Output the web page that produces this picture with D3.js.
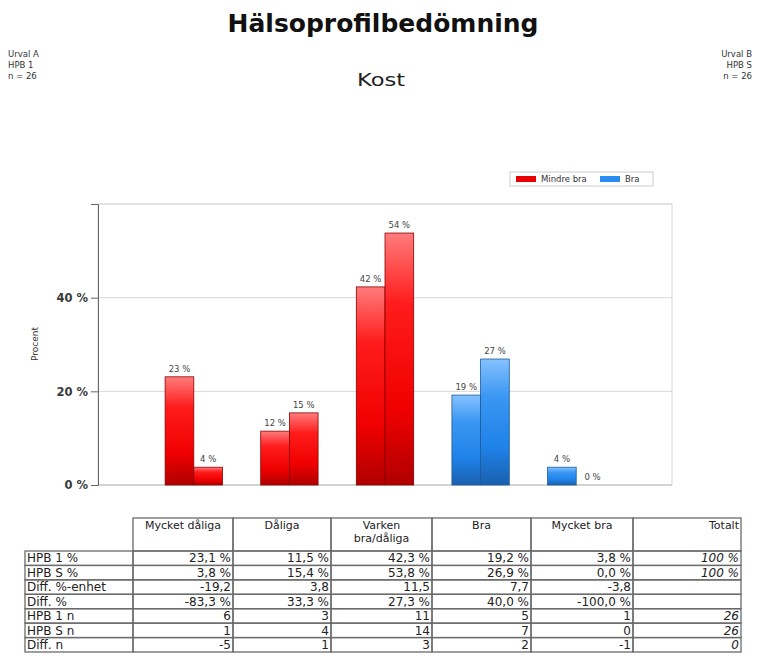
<!DOCTYPE html>
<html>
<head>
<meta charset="utf-8">
<script src="https://cdn.jsdelivr.net/npm/d3@7"></script>
<style>
body { margin: 0; background: #fff; }
text { font-family: "DejaVu Sans", Verdana, sans-serif; }
</style>
</head>
<body>
<div id="chart"></div>
<script>
// chart data
const categories = ["Mycket dåliga", "Dåliga", "Varken bra/dåliga", "Bra", "Mycket bra"];
const seriesNames = ["HPB 1", "HPB S"];
const hpb1Pct = [23.1, 11.5, 42.3, 19.2, 3.8];
const hpbSPct = [3.8, 15.4, 53.8, 26.9, 0.0];
const categoryGroup = ["Mindre bra", "Mindre bra", "Mindre bra", "Bra", "Bra"];
const legendItems = ["Mindre bra", "Bra"];
const yTicks = [0, 20, 40, 60];

// table data
const headerLabels = [["Mycket dåliga"], ["Dåliga"], ["Varken", "bra/dåliga"], ["Bra"], ["Mycket bra"], ["Totalt"]];
const rowLabels = ["HPB 1 %", "HPB S %", "Diff. %-enhet", "Diff. %", "HPB 1 n", "HPB S n", "Diff. n"];
const diffUnit = [-19.2, 3.8, 11.5, 7.7, -3.8];
const diffPct = [-83.3, 33.3, 27.3, 40.0, -100.0];
const hpb1N = [6, 3, 11, 5, 1];
const hpbSN = [1, 4, 14, 7, 0];
const diffN = [-5, 1, 3, 2, -1];
const totals = ["100 %", "100 %", "", "", "26", "26", "0"];

const sv = d3.formatLocale({decimal: ",", thousands: " ", grouping: [3], currency: ["", " kr"], minus: "-"});
const f1 = sv.format(".1f");

const svg = d3.select("#chart").append("svg")
    .attr("width", 760)
    .attr("height", 666);

// gradients for the bars
const defs = svg.append("defs");
function grad(id, stops) {
    const g = defs.append("linearGradient").attr("id", id)
        .attr("x1", 0).attr("y1", 0).attr("x2", 0).attr("y2", 1);
    stops.forEach(s => g.append("stop").attr("offset", s[0]).attr("stop-color", s[1]));
}
grad("gRed", [["0%", "#ff7c7c"], ["28%", "#ff1c1c"], ["70%", "#f00000"], ["100%", "#b00000"]]);
grad("gBlue", [["0%", "#86c2ff"], ["30%", "#3a96f2"], ["70%", "#1f82e8"], ["100%", "#1a5fae"]]);
const fillOf = {"Mindre bra": "url(#gRed)", "Bra": "url(#gBlue)"};
const strokeOf = {"Mindre bra": "#8a0000", "Bra": "#1d5a9a"};
const swatchOf = {"Mindre bra": "#e80000", "Bra": "#2a8ef0"};

// titles
svg.append("text")
    .attr("x", 383).attr("y", 32)
    .attr("text-anchor", "middle")
    .style("font-size", "25px").style("font-weight", "bold").attr("fill", "#111")
    .text("Hälsoprofilbedömning");

svg.append("text")
    .attr("x", 381).attr("y", 86)
    .attr("text-anchor", "middle")
    .attr("textLength", 48).attr("lengthAdjust", "spacingAndGlyphs")
    .style("font-size", "18px").attr("fill", "#222")
    .text("Kost");

const leftInfo = ["Urval A", "HPB 1", "n = 26"];
const rightInfo = ["Urval B", "HPB S", "n = 26"];
svg.append("g").selectAll("text").data(leftInfo).enter().append("text")
    .attr("x", 8).attr("y", (d, i) => 57 + i * 11)
    .style("font-size", "8.5px").attr("fill", "#333")
    .text(d => d);
svg.append("g").selectAll("text").data(rightInfo).enter().append("text")
    .attr("x", 752).attr("y", (d, i) => 57 + i * 11)
    .attr("text-anchor", "end")
    .style("font-size", "8.5px").attr("fill", "#333")
    .text(d => d);

// scales
const x0 = d3.scaleBand()
    .domain(categories)
    .range([146, 624])
    .paddingInner(0.4)
    .paddingOuter(0.2);
const x1 = d3.scaleBand()
    .domain(seriesNames)
    .range([0, x0.bandwidth()]);
const y = d3.scaleLinear()
    .domain([0, 60])
    .range([485, 204]);

// plot frame and grid
svg.append("rect")
    .attr("x", 98).attr("y", y(60))
    .attr("width", 574).attr("height", y(0) - y(60))
    .attr("fill", "none").attr("stroke", "#d8d8d8");

svg.append("g").selectAll("line").data(yTicks).enter().append("line")
    .attr("x1", 98).attr("x2", 672)
    .attr("y1", d => y(d)).attr("y2", d => y(d))
    .attr("stroke", d => d === 0 ? "#bbb" : "#d8d8d8");

const yAxis = svg.append("g")
    .attr("transform", "translate(98,0)")
    .call(d3.axisLeft(y).tickValues(yTicks).tickSize(7).tickPadding(3)
        .tickFormat(d => d === 60 ? "" : d + " %"));
yAxis.select(".domain").attr("stroke", "#666");
yAxis.selectAll(".tick line").attr("stroke", "#666");
yAxis.selectAll(".tick text")
    .style("font-size", "11.5px").style("font-weight", "bold")
    .style("font-family", "'DejaVu Sans', Verdana, sans-serif")
    .attr("fill", "#3a3a3a");

svg.append("text")
    .attr("transform", "translate(38,344) rotate(-90)")
    .attr("text-anchor", "middle")
    .style("font-size", "9px").attr("fill", "#333")
    .text("Procent");

// bars
const barData = [];
categories.forEach((c, i) => {
    barData.push({cat: c, series: "HPB 1", value: hpb1Pct[i], group: categoryGroup[i]});
    barData.push({cat: c, series: "HPB S", value: hpbSPct[i], group: categoryGroup[i]});
});

svg.append("g").selectAll("rect").data(barData).enter().append("rect")
    .attr("x", d => x0(d.cat) + x1(d.series))
    .attr("y", d => y(d.value))
    .attr("width", x1.bandwidth())
    .attr("height", d => y(0) - y(d.value))
    .attr("fill", d => fillOf[d.group])
    .attr("stroke", d => d.value > 0 ? strokeOf[d.group] : "#555")
    .attr("stroke-width", 0.8);

svg.append("g").selectAll("text").data(barData).enter().append("text")
    .attr("x", d => x0(d.cat) + x1(d.series) + x1.bandwidth() / 2 + (d.value === 0 ? 2 : 0))
    .attr("y", d => y(d.value) - 5)
    .attr("text-anchor", "middle")
    .style("font-size", "8.5px").attr("fill", "#444")
    .text(d => Math.round(d.value) + " %");

// legend
const legend = svg.append("g").attr("transform", "translate(510,172)");
legend.append("rect")
    .attr("width", 143).attr("height", 14)
    .attr("fill", "#fff").attr("stroke", "#ccc");
const lx = [6, 90];
legendItems.forEach((name, i) => {
    legend.append("rect")
        .attr("x", lx[i]).attr("y", 4)
        .attr("width", 20).attr("height", 6)
        .attr("fill", swatchOf[name]);
    legend.append("text")
        .attr("x", lx[i] + 25).attr("y", 10)
        .style("font-size", "8.5px").attr("fill", "#333")
        .text(name);
});

// table
const colEdges = [25, 133, 233, 331, 432, 531, 633, 741];
const rowY = d3.scaleBand().domain(rowLabels).range([551, 652]);
const tbl = svg.append("g");
const lineCol = "#6a6a6a";

// header cells
headerLabels.forEach((lines, j) => {
    const xa = colEdges[j + 1], xb = colEdges[j + 2];
    tbl.append("rect")
        .attr("x", xa).attr("y", 518)
        .attr("width", xb - xa).attr("height", 551 - 518)
        .attr("fill", "none").attr("stroke", lineCol).attr("stroke-width", 1.3);
    const last = j === headerLabels.length - 1;
    lines.forEach((ln, k) => {
        tbl.append("text")
            .attr("x", last ? xb - 2 : (xa + xb) / 2)
            .attr("y", 529 + k * 12.5)
            .attr("text-anchor", last ? "end" : "middle")
            .style("font-size", "11px").attr("fill", "#222")
            .text(ln);
    });
});

const rowValues = [
    hpb1Pct.map(v => f1(v) + " %"),
    hpbSPct.map(v => f1(v) + " %"),
    diffUnit.map(v => f1(v)),
    diffPct.map(v => f1(v) + " %"),
    hpb1N.map(v => String(v)),
    hpbSN.map(v => String(v)),
    diffN.map(v => String(v))
];

rowLabels.forEach((lab, r) => {
    const yy = rowY(lab), hh = rowY.bandwidth();
    const cells = [lab].concat(rowValues[r], [totals[r]]);
    cells.forEach((val, c) => {
        const xa = colEdges[c], xb = colEdges[c + 1];
        tbl.append("rect")
            .attr("x", xa).attr("y", yy)
            .attr("width", xb - xa).attr("height", hh)
            .attr("fill", "none").attr("stroke", lineCol).attr("stroke-width", 1.3);
        tbl.append("text")
            .attr("x", c === 0 ? xa + 2 : xb - 2)
            .attr("y", yy + hh - 3)
            .attr("text-anchor", c === 0 ? "start" : "end")
            .style("font-size", "12px")
            .style("font-style", c === cells.length - 1 ? "italic" : "normal")
            .attr("fill", "#222")
            .text(val);
    });
});
</script>
</body>
</html>
